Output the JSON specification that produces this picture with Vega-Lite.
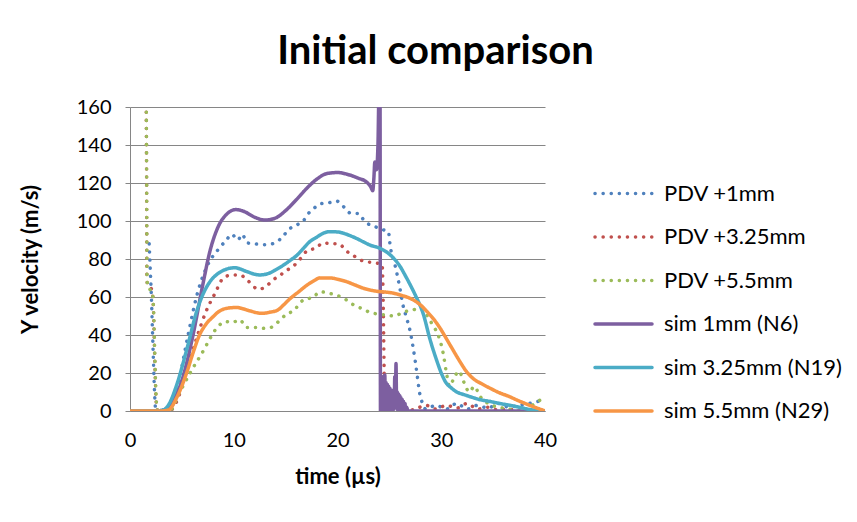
{
  "$schema": "https://vega.github.io/schema/vega-lite/v6.json",
  "width": 415,
  "height": 304,
  "autosize": "none",
  "padding": {"left": 130, "top": 107, "right": 312, "bottom": 111},
  "background": "white",
  "title": {
    "text": "Initial comparison",
    "font": "Lato",
    "fontSize": 40,
    "fontWeight": "bold",
    "color": "#000000",
    "anchor": "middle",
    "frame": "group",
    "dx": 98,
    "baseline": "alphabetic",
    "offset": -7
  },
  "config": {
    "view": {"stroke": null},
    "font": "Lato",
    "axis": {
      "labelFont": "Lato",
      "labelFontSize": 20,
      "labelColor": "#000000",
      "titleFont": "Lato",
      "titleFontSize": 22,
      "titleFontWeight": "bold",
      "titleColor": "#000000",
      "domainColor": "#868686",
      "tickColor": "#868686",
      "gridColor": "#868686",
      "gridWidth": 1,
      "domainWidth": 1
    },
    "legend": {"labelFont": "Lato"}
  },
  "data": {
    "values": [
      {"series": "PDV +1mm", "t": 1.85, "v": 88}, {"series": "PDV +1mm", "t": 1.95, "v": 75}, {"series": "PDV +1mm", "t": 2.05, "v": 62}, {"series": "PDV +1mm", "t": 2.15, "v": 45}, {"series": "PDV +1mm", "t": 2.25, "v": 28}, {"series": "PDV +1mm", "t": 2.35, "v": 12}, {"series": "PDV +1mm", "t": 2.45, "v": 2}, {"series": "PDV +1mm", "t": 2.6, "v": 0}, {"series": "PDV +1mm", "t": 3.4, "v": 0}, {"series": "PDV +1mm", "t": 4.2, "v": 4}, {"series": "PDV +1mm", "t": 4.8, "v": 18}, {"series": "PDV +1mm", "t": 5.6, "v": 40}, {"series": "PDV +1mm", "t": 6.5, "v": 62}, {"series": "PDV +1mm", "t": 7.5, "v": 77}, {"series": "PDV +1mm", "t": 8.5, "v": 85}, {"series": "PDV +1mm", "t": 9.3, "v": 90}, {"series": "PDV +1mm", "t": 9.8, "v": 93}, {"series": "PDV +1mm", "t": 10.4, "v": 90}, {"series": "PDV +1mm", "t": 10.8, "v": 93}, {"series": "PDV +1mm", "t": 11.3, "v": 88.5}, {"series": "PDV +1mm", "t": 12, "v": 88}, {"series": "PDV +1mm", "t": 12.9, "v": 87.5}, {"series": "PDV +1mm", "t": 13.7, "v": 88}, {"series": "PDV +1mm", "t": 14.5, "v": 90.5}, {"series": "PDV +1mm", "t": 15.4, "v": 96}, {"series": "PDV +1mm", "t": 16.1, "v": 98}, {"series": "PDV +1mm", "t": 16.7, "v": 100}, {"series": "PDV +1mm", "t": 17.2, "v": 104}, {"series": "PDV +1mm", "t": 17.7, "v": 106.5}, {"series": "PDV +1mm", "t": 18.3, "v": 109}, {"series": "PDV +1mm", "t": 19.1, "v": 109.5}, {"series": "PDV +1mm", "t": 19.9, "v": 110.5}, {"series": "PDV +1mm", "t": 20.6, "v": 107.5}, {"series": "PDV +1mm", "t": 21.3, "v": 104}, {"series": "PDV +1mm", "t": 22, "v": 104}, {"series": "PDV +1mm", "t": 22.6, "v": 100}, {"series": "PDV +1mm", "t": 23.1, "v": 98}, {"series": "PDV +1mm", "t": 23.6, "v": 97}, {"series": "PDV +1mm", "t": 24.1, "v": 96}, {"series": "PDV +1mm", "t": 24.6, "v": 95}, {"series": "PDV +1mm", "t": 24.9, "v": 94.5}, {"series": "PDV +1mm", "t": 25.1, "v": 86}, {"series": "PDV +1mm", "t": 25.4, "v": 80}, {"series": "PDV +1mm", "t": 25.7, "v": 73}, {"series": "PDV +1mm", "t": 26.0, "v": 65}, {"series": "PDV +1mm", "t": 26.3, "v": 56}, {"series": "PDV +1mm", "t": 26.6, "v": 50}, {"series": "PDV +1mm", "t": 27.0, "v": 42}, {"series": "PDV +1mm", "t": 27.3, "v": 33}, {"series": "PDV +1mm", "t": 27.5, "v": 26}, {"series": "PDV +1mm", "t": 27.7, "v": 18}, {"series": "PDV +1mm", "t": 27.9, "v": 10}, {"series": "PDV +1mm", "t": 28.2, "v": 4}, {"series": "PDV +1mm", "t": 28.5, "v": 1}, {"series": "PDV +1mm", "t": 29.5, "v": 3}, {"series": "PDV +1mm", "t": 30.5, "v": 1}, {"series": "PDV +1mm", "t": 31.5, "v": 4}, {"series": "PDV +1mm", "t": 32.5, "v": 1}, {"series": "PDV +1mm", "t": 33.5, "v": 3}, {"series": "PDV +1mm", "t": 34.5, "v": 1.5}, {"series": "PDV +1mm", "t": 35.5, "v": 4}, {"series": "PDV +1mm", "t": 36.5, "v": 2}, {"series": "PDV +1mm", "t": 37.5, "v": 3}, {"series": "PDV +1mm", "t": 38.5, "v": 4}, {"series": "PDV +1mm", "t": 39.3, "v": 5}, {"series": "PDV +1mm", "t": 40, "v": 6.5},

      {"series": "PDV +3.25mm", "t": 1.55, "v": 170}, {"series": "PDV +3.25mm", "t": 1.6, "v": 120}, {"series": "PDV +3.25mm", "t": 1.63, "v": 70}, {"series": "PDV +3.25mm", "t": 1.7, "v": 66}, {"series": "PDV +3.25mm", "t": 1.9, "v": 65}, {"series": "PDV +3.25mm", "t": 2.1, "v": 64}, {"series": "PDV +3.25mm", "t": 2.25, "v": 55}, {"series": "PDV +3.25mm", "t": 2.35, "v": 35}, {"series": "PDV +3.25mm", "t": 2.45, "v": 15}, {"series": "PDV +3.25mm", "t": 2.55, "v": 3}, {"series": "PDV +3.25mm", "t": 2.7, "v": 0}, {"series": "PDV +3.25mm", "t": 3.8, "v": 0}, {"series": "PDV +3.25mm", "t": 4.5, "v": 5}, {"series": "PDV +3.25mm", "t": 5.3, "v": 18}, {"series": "PDV +3.25mm", "t": 6.4, "v": 38}, {"series": "PDV +3.25mm", "t": 7.3, "v": 52}, {"series": "PDV +3.25mm", "t": 8.2, "v": 62}, {"series": "PDV +3.25mm", "t": 9.0, "v": 70}, {"series": "PDV +3.25mm", "t": 9.8, "v": 71.6}, {"series": "PDV +3.25mm", "t": 10.6, "v": 71.6}, {"series": "PDV +3.25mm", "t": 11.4, "v": 68.4}, {"series": "PDV +3.25mm", "t": 12.4, "v": 64}, {"series": "PDV +3.25mm", "t": 13.2, "v": 66}, {"series": "PDV +3.25mm", "t": 13.8, "v": 69}, {"series": "PDV +3.25mm", "t": 14.5, "v": 71.6}, {"series": "PDV +3.25mm", "t": 15.1, "v": 74}, {"series": "PDV +3.25mm", "t": 15.7, "v": 76}, {"series": "PDV +3.25mm", "t": 16.4, "v": 80}, {"series": "PDV +3.25mm", "t": 17, "v": 84}, {"series": "PDV +3.25mm", "t": 18, "v": 86}, {"series": "PDV +3.25mm", "t": 18.6, "v": 88.5}, {"series": "PDV +3.25mm", "t": 19.6, "v": 88}, {"series": "PDV +3.25mm", "t": 20.1, "v": 88}, {"series": "PDV +3.25mm", "t": 20.9, "v": 84}, {"series": "PDV +3.25mm", "t": 21.5, "v": 82}, {"series": "PDV +3.25mm", "t": 22, "v": 80}, {"series": "PDV +3.25mm", "t": 22.8, "v": 78.6}, {"series": "PDV +3.25mm", "t": 23.6, "v": 78}, {"series": "PDV +3.25mm", "t": 24.3, "v": 77}, {"series": "PDV +3.25mm", "t": 24.4, "v": 60}, {"series": "PDV +3.25mm", "t": 24.45, "v": 40}, {"series": "PDV +3.25mm", "t": 24.5, "v": 20}, {"series": "PDV +3.25mm", "t": 24.55, "v": 3}, {"series": "PDV +3.25mm", "t": 25.0, "v": 0}, {"series": "PDV +3.25mm", "t": 25.5, "v": 2}, {"series": "PDV +3.25mm", "t": 26.5, "v": 0}, {"series": "PDV +3.25mm", "t": 27.5, "v": 1}, {"series": "PDV +3.25mm", "t": 28.5, "v": 3}, {"series": "PDV +3.25mm", "t": 29.5, "v": 1}, {"series": "PDV +3.25mm", "t": 30.5, "v": 3}, {"series": "PDV +3.25mm", "t": 31.5, "v": 1.5}, {"series": "PDV +3.25mm", "t": 32.5, "v": 4}, {"series": "PDV +3.25mm", "t": 33.5, "v": 1}, {"series": "PDV +3.25mm", "t": 34.5, "v": 2}, {"series": "PDV +3.25mm", "t": 35.5, "v": 0.5}, {"series": "PDV +3.25mm", "t": 36.5, "v": 1}, {"series": "PDV +3.25mm", "t": 37.5, "v": 0}, {"series": "PDV +3.25mm", "t": 38.5, "v": 0.5}, {"series": "PDV +3.25mm", "t": 40, "v": 0},

      {"series": "PDV +5.5mm", "t": 1.56, "v": 170}, {"series": "PDV +5.5mm", "t": 1.61, "v": 120}, {"series": "PDV +5.5mm", "t": 1.64, "v": 70}, {"series": "PDV +5.5mm", "t": 1.72, "v": 65}, {"series": "PDV +5.5mm", "t": 1.92, "v": 64}, {"series": "PDV +5.5mm", "t": 2.12, "v": 63}, {"series": "PDV +5.5mm", "t": 2.27, "v": 54}, {"series": "PDV +5.5mm", "t": 2.37, "v": 34}, {"series": "PDV +5.5mm", "t": 2.47, "v": 14}, {"series": "PDV +5.5mm", "t": 2.57, "v": 3}, {"series": "PDV +5.5mm", "t": 2.7, "v": 0}, {"series": "PDV +5.5mm", "t": 3.8, "v": 0}, {"series": "PDV +5.5mm", "t": 4.8, "v": 10}, {"series": "PDV +5.5mm", "t": 6, "v": 22}, {"series": "PDV +5.5mm", "t": 7.1, "v": 32}, {"series": "PDV +5.5mm", "t": 7.8, "v": 39}, {"series": "PDV +5.5mm", "t": 8.4, "v": 44}, {"series": "PDV +5.5mm", "t": 9.3, "v": 47}, {"series": "PDV +5.5mm", "t": 9.8, "v": 46.5}, {"series": "PDV +5.5mm", "t": 10.6, "v": 48}, {"series": "PDV +5.5mm", "t": 11.2, "v": 44}, {"series": "PDV +5.5mm", "t": 12.2, "v": 44}, {"series": "PDV +5.5mm", "t": 13, "v": 43.5}, {"series": "PDV +5.5mm", "t": 13.6, "v": 44}, {"series": "PDV +5.5mm", "t": 14.3, "v": 47}, {"series": "PDV +5.5mm", "t": 15.1, "v": 51}, {"series": "PDV +5.5mm", "t": 15.7, "v": 52.5}, {"series": "PDV +5.5mm", "t": 16.7, "v": 58.4}, {"series": "PDV +5.5mm", "t": 17.7, "v": 60}, {"series": "PDV +5.5mm", "t": 18.3, "v": 62.8}, {"series": "PDV +5.5mm", "t": 19.1, "v": 62}, {"series": "PDV +5.5mm", "t": 19.9, "v": 61}, {"series": "PDV +5.5mm", "t": 20.7, "v": 59}, {"series": "PDV +5.5mm", "t": 21.5, "v": 56}, {"series": "PDV +5.5mm", "t": 22.3, "v": 54}, {"series": "PDV +5.5mm", "t": 23.1, "v": 52}, {"series": "PDV +5.5mm", "t": 23.9, "v": 51}, {"series": "PDV +5.5mm", "t": 24.7, "v": 50.5}, {"series": "PDV +5.5mm", "t": 25.5, "v": 50}, {"series": "PDV +5.5mm", "t": 26.3, "v": 52}, {"series": "PDV +5.5mm", "t": 27.2, "v": 53}, {"series": "PDV +5.5mm", "t": 27.8, "v": 54}, {"series": "PDV +5.5mm", "t": 28.3, "v": 53}, {"series": "PDV +5.5mm", "t": 28.6, "v": 50.5}, {"series": "PDV +5.5mm", "t": 29.2, "v": 45}, {"series": "PDV +5.5mm", "t": 29.7, "v": 40}, {"series": "PDV +5.5mm", "t": 30.2, "v": 30}, {"series": "PDV +5.5mm", "t": 30.5, "v": 20}, {"series": "PDV +5.5mm", "t": 30.8, "v": 13}, {"series": "PDV +5.5mm", "t": 31.2, "v": 17}, {"series": "PDV +5.5mm", "t": 31.7, "v": 21}, {"series": "PDV +5.5mm", "t": 32.2, "v": 15}, {"series": "PDV +5.5mm", "t": 32.7, "v": 10}, {"series": "PDV +5.5mm", "t": 33.2, "v": 13}, {"series": "PDV +5.5mm", "t": 33.7, "v": 8}, {"series": "PDV +5.5mm", "t": 34.5, "v": 4}, {"series": "PDV +5.5mm", "t": 35.5, "v": 2}, {"series": "PDV +5.5mm", "t": 36.5, "v": 1}, {"series": "PDV +5.5mm", "t": 37.5, "v": 0}, {"series": "PDV +5.5mm", "t": 38.5, "v": 2}, {"series": "PDV +5.5mm", "t": 39.3, "v": 5}, {"series": "PDV +5.5mm", "t": 40, "v": 7},

      {"series": "sim 1mm (N6)", "t": 0, "v": 0}, {"series": "sim 1mm (N6)", "t": 2.5, "v": 0}, {"series": "sim 1mm (N6)", "t": 3.2, "v": 0.5}, {"series": "sim 1mm (N6)", "t": 4, "v": 4}, {"series": "sim 1mm (N6)", "t": 5, "v": 16}, {"series": "sim 1mm (N6)", "t": 6, "v": 38}, {"series": "sim 1mm (N6)", "t": 7, "v": 66}, {"series": "sim 1mm (N6)", "t": 7.7, "v": 84}, {"series": "sim 1mm (N6)", "t": 8.5, "v": 97}, {"series": "sim 1mm (N6)", "t": 9.3, "v": 103.5}, {"series": "sim 1mm (N6)", "t": 10.2, "v": 106}, {"series": "sim 1mm (N6)", "t": 11, "v": 105}, {"series": "sim 1mm (N6)", "t": 12, "v": 102}, {"series": "sim 1mm (N6)", "t": 13, "v": 100.5}, {"series": "sim 1mm (N6)", "t": 14, "v": 101.5}, {"series": "sim 1mm (N6)", "t": 15, "v": 105.5}, {"series": "sim 1mm (N6)", "t": 16, "v": 111}, {"series": "sim 1mm (N6)", "t": 17, "v": 117}, {"series": "sim 1mm (N6)", "t": 18, "v": 122}, {"series": "sim 1mm (N6)", "t": 19, "v": 125}, {"series": "sim 1mm (N6)", "t": 20, "v": 125.5}, {"series": "sim 1mm (N6)", "t": 21, "v": 124.5}, {"series": "sim 1mm (N6)", "t": 22, "v": 122.5}, {"series": "sim 1mm (N6)", "t": 22.8, "v": 120.5}, {"series": "sim 1mm (N6)", "t": 23.2, "v": 118}, {"series": "sim 1mm (N6)", "t": 23.4, "v": 116}, {"series": "sim 1mm (N6)", "t": 23.5, "v": 122}, {"series": "sim 1mm (N6)", "t": 23.6, "v": 131}, {"series": "sim 1mm (N6)", "t": 23.75, "v": 127}, {"series": "sim 1mm (N6)", "t": 23.9, "v": 140}, {"series": "sim 1mm (N6)", "t": 24.0, "v": 168}, {"series": "sim 1mm (N6)", "t": 24.1, "v": 168}, {"series": "sim 1mm (N6)", "t": 24.14, "v": 0},
      {"series": "sim 1mm (N6)", "t": 24.2, "v": 16}, {"series": "sim 1mm (N6)", "t": 24.26, "v": 1}, {"series": "sim 1mm (N6)", "t": 24.32, "v": 18}, {"series": "sim 1mm (N6)", "t": 24.38, "v": 0}, {"series": "sim 1mm (N6)", "t": 24.44, "v": 17}, {"series": "sim 1mm (N6)", "t": 24.5, "v": 1}, {"series": "sim 1mm (N6)", "t": 24.56, "v": 19}, {"series": "sim 1mm (N6)", "t": 24.62, "v": 0}, {"series": "sim 1mm (N6)", "t": 24.68, "v": 15}, {"series": "sim 1mm (N6)", "t": 24.74, "v": 1}, {"series": "sim 1mm (N6)", "t": 24.8, "v": 14}, {"series": "sim 1mm (N6)", "t": 24.86, "v": 0}, {"series": "sim 1mm (N6)", "t": 24.92, "v": 13}, {"series": "sim 1mm (N6)", "t": 24.98, "v": 1}, {"series": "sim 1mm (N6)", "t": 25.04, "v": 12}, {"series": "sim 1mm (N6)", "t": 25.1, "v": 0}, {"series": "sim 1mm (N6)", "t": 25.16, "v": 11}, {"series": "sim 1mm (N6)", "t": 25.22, "v": 1}, {"series": "sim 1mm (N6)", "t": 25.28, "v": 10}, {"series": "sim 1mm (N6)", "t": 25.34, "v": 0}, {"series": "sim 1mm (N6)", "t": 25.4, "v": 11}, {"series": "sim 1mm (N6)", "t": 25.46, "v": 1}, {"series": "sim 1mm (N6)", "t": 25.52, "v": 18}, {"series": "sim 1mm (N6)", "t": 25.58, "v": 3}, {"series": "sim 1mm (N6)", "t": 25.64, "v": 25}, {"series": "sim 1mm (N6)", "t": 25.7, "v": 2}, {"series": "sim 1mm (N6)", "t": 25.76, "v": 10}, {"series": "sim 1mm (N6)", "t": 25.82, "v": 0}, {"series": "sim 1mm (N6)", "t": 25.88, "v": 9}, {"series": "sim 1mm (N6)", "t": 25.94, "v": 1}, {"series": "sim 1mm (N6)", "t": 26.0, "v": 8}, {"series": "sim 1mm (N6)", "t": 26.06, "v": 0}, {"series": "sim 1mm (N6)", "t": 26.12, "v": 7}, {"series": "sim 1mm (N6)", "t": 26.18, "v": 1}, {"series": "sim 1mm (N6)", "t": 26.24, "v": 6}, {"series": "sim 1mm (N6)", "t": 26.3, "v": 0}, {"series": "sim 1mm (N6)", "t": 26.36, "v": 5}, {"series": "sim 1mm (N6)", "t": 26.42, "v": 0}, {"series": "sim 1mm (N6)", "t": 26.5, "v": 4}, {"series": "sim 1mm (N6)", "t": 26.58, "v": 0}, {"series": "sim 1mm (N6)", "t": 26.66, "v": 2}, {"series": "sim 1mm (N6)", "t": 26.8, "v": 0}, {"series": "sim 1mm (N6)", "t": 40, "v": 0},

      {"series": "sim 3.25mm (N19)", "t": 0, "v": 0}, {"series": "sim 3.25mm (N19)", "t": 2.5, "v": 0}, {"series": "sim 3.25mm (N19)", "t": 3.2, "v": 0.5}, {"series": "sim 3.25mm (N19)", "t": 3.8, "v": 4}, {"series": "sim 3.25mm (N19)", "t": 4.5, "v": 13.7}, {"series": "sim 3.25mm (N19)", "t": 5.5, "v": 33}, {"series": "sim 3.25mm (N19)", "t": 6.4, "v": 52}, {"series": "sim 3.25mm (N19)", "t": 7.0, "v": 61}, {"series": "sim 3.25mm (N19)", "t": 7.7, "v": 68}, {"series": "sim 3.25mm (N19)", "t": 8.4, "v": 72}, {"series": "sim 3.25mm (N19)", "t": 9.0, "v": 74}, {"series": "sim 3.25mm (N19)", "t": 10.1, "v": 75.4}, {"series": "sim 3.25mm (N19)", "t": 11.2, "v": 73.5}, {"series": "sim 3.25mm (N19)", "t": 12.0, "v": 72}, {"series": "sim 3.25mm (N19)", "t": 12.5, "v": 71.6}, {"series": "sim 3.25mm (N19)", "t": 13.4, "v": 72.5}, {"series": "sim 3.25mm (N19)", "t": 14.1, "v": 74.5}, {"series": "sim 3.25mm (N19)", "t": 14.8, "v": 76.8}, {"series": "sim 3.25mm (N19)", "t": 15.5, "v": 79.5}, {"series": "sim 3.25mm (N19)", "t": 16.1, "v": 82}, {"series": "sim 3.25mm (N19)", "t": 16.7, "v": 85.5}, {"series": "sim 3.25mm (N19)", "t": 17.3, "v": 89}, {"series": "sim 3.25mm (N19)", "t": 18, "v": 91.5}, {"series": "sim 3.25mm (N19)", "t": 18.6, "v": 93.5}, {"series": "sim 3.25mm (N19)", "t": 19.3, "v": 94.4}, {"series": "sim 3.25mm (N19)", "t": 20.1, "v": 94.2}, {"series": "sim 3.25mm (N19)", "t": 20.6, "v": 93.5}, {"series": "sim 3.25mm (N19)", "t": 21.2, "v": 92.3}, {"series": "sim 3.25mm (N19)", "t": 21.8, "v": 90.9}, {"series": "sim 3.25mm (N19)", "t": 22.5, "v": 89}, {"series": "sim 3.25mm (N19)", "t": 23.1, "v": 87.4}, {"series": "sim 3.25mm (N19)", "t": 24.1, "v": 85.6}, {"series": "sim 3.25mm (N19)", "t": 24.9, "v": 83}, {"series": "sim 3.25mm (N19)", "t": 25.3, "v": 81}, {"series": "sim 3.25mm (N19)", "t": 25.7, "v": 78.6}, {"series": "sim 3.25mm (N19)", "t": 26.1, "v": 75.5}, {"series": "sim 3.25mm (N19)", "t": 26.5, "v": 71.6}, {"series": "sim 3.25mm (N19)", "t": 27, "v": 66.5}, {"series": "sim 3.25mm (N19)", "t": 27.5, "v": 61}, {"series": "sim 3.25mm (N19)", "t": 28.3, "v": 50.5}, {"series": "sim 3.25mm (N19)", "t": 28.9, "v": 38}, {"series": "sim 3.25mm (N19)", "t": 29.6, "v": 26}, {"series": "sim 3.25mm (N19)", "t": 30, "v": 20}, {"series": "sim 3.25mm (N19)", "t": 30.4, "v": 15.4}, {"series": "sim 3.25mm (N19)", "t": 31, "v": 12}, {"series": "sim 3.25mm (N19)", "t": 31.5, "v": 10}, {"series": "sim 3.25mm (N19)", "t": 32.2, "v": 8.6}, {"series": "sim 3.25mm (N19)", "t": 32.8, "v": 7.5}, {"series": "sim 3.25mm (N19)", "t": 33.7, "v": 6}, {"series": "sim 3.25mm (N19)", "t": 34.7, "v": 5}, {"series": "sim 3.25mm (N19)", "t": 35.6, "v": 4}, {"series": "sim 3.25mm (N19)", "t": 36.6, "v": 3}, {"series": "sim 3.25mm (N19)", "t": 37.5, "v": 2}, {"series": "sim 3.25mm (N19)", "t": 38.5, "v": 0.8}, {"series": "sim 3.25mm (N19)", "t": 39.5, "v": 0.2}, {"series": "sim 3.25mm (N19)", "t": 40, "v": 0},

      {"series": "sim 5.5mm (N29)", "t": 0, "v": 0}, {"series": "sim 5.5mm (N29)", "t": 3, "v": 0}, {"series": "sim 5.5mm (N29)", "t": 3.7, "v": 0.5}, {"series": "sim 5.5mm (N29)", "t": 4.5, "v": 7}, {"series": "sim 5.5mm (N29)", "t": 5.5, "v": 20.7}, {"series": "sim 5.5mm (N29)", "t": 6.1, "v": 31}, {"series": "sim 5.5mm (N29)", "t": 6.7, "v": 40}, {"series": "sim 5.5mm (N29)", "t": 7.3, "v": 45.5}, {"series": "sim 5.5mm (N29)", "t": 8.0, "v": 49.6}, {"series": "sim 5.5mm (N29)", "t": 8.6, "v": 52.5}, {"series": "sim 5.5mm (N29)", "t": 9.3, "v": 54}, {"series": "sim 5.5mm (N29)", "t": 10.3, "v": 54.5}, {"series": "sim 5.5mm (N29)", "t": 11, "v": 53.6}, {"series": "sim 5.5mm (N29)", "t": 11.6, "v": 52.6}, {"series": "sim 5.5mm (N29)", "t": 12.7, "v": 51.4}, {"series": "sim 5.5mm (N29)", "t": 13.5, "v": 52}, {"series": "sim 5.5mm (N29)", "t": 14.2, "v": 53}, {"series": "sim 5.5mm (N29)", "t": 14.8, "v": 55.8}, {"series": "sim 5.5mm (N29)", "t": 15.4, "v": 59}, {"series": "sim 5.5mm (N29)", "t": 16.2, "v": 62.5}, {"series": "sim 5.5mm (N29)", "t": 17, "v": 66}, {"series": "sim 5.5mm (N29)", "t": 17.7, "v": 68.5}, {"series": "sim 5.5mm (N29)", "t": 18.3, "v": 70}, {"series": "sim 5.5mm (N29)", "t": 19.3, "v": 70}, {"series": "sim 5.5mm (N29)", "t": 20.1, "v": 69.2}, {"series": "sim 5.5mm (N29)", "t": 20.9, "v": 68}, {"series": "sim 5.5mm (N29)", "t": 21.7, "v": 66.3}, {"series": "sim 5.5mm (N29)", "t": 22.5, "v": 64.6}, {"series": "sim 5.5mm (N29)", "t": 23.2, "v": 63.6}, {"series": "sim 5.5mm (N29)", "t": 23.8, "v": 63}, {"series": "sim 5.5mm (N29)", "t": 24.6, "v": 62.6}, {"series": "sim 5.5mm (N29)", "t": 25.4, "v": 62}, {"series": "sim 5.5mm (N29)", "t": 26.2, "v": 60.8}, {"series": "sim 5.5mm (N29)", "t": 27, "v": 59.3}, {"series": "sim 5.5mm (N29)", "t": 27.5, "v": 57.8}, {"series": "sim 5.5mm (N29)", "t": 28, "v": 55.8}, {"series": "sim 5.5mm (N29)", "t": 28.6, "v": 52.5}, {"series": "sim 5.5mm (N29)", "t": 29.2, "v": 48.8}, {"series": "sim 5.5mm (N29)", "t": 29.9, "v": 43.5}, {"series": "sim 5.5mm (N29)", "t": 30.5, "v": 38}, {"series": "sim 5.5mm (N29)", "t": 31.2, "v": 31.5}, {"series": "sim 5.5mm (N29)", "t": 31.8, "v": 26}, {"series": "sim 5.5mm (N29)", "t": 32.4, "v": 21}, {"series": "sim 5.5mm (N29)", "t": 33.1, "v": 17}, {"series": "sim 5.5mm (N29)", "t": 33.9, "v": 14.3}, {"series": "sim 5.5mm (N29)", "t": 34.7, "v": 12}, {"series": "sim 5.5mm (N29)", "t": 35.6, "v": 9.6}, {"series": "sim 5.5mm (N29)", "t": 36.6, "v": 7.5}, {"series": "sim 5.5mm (N29)", "t": 37.4, "v": 5.5}, {"series": "sim 5.5mm (N29)", "t": 38.2, "v": 3.7}, {"series": "sim 5.5mm (N29)", "t": 39, "v": 2}, {"series": "sim 5.5mm (N29)", "t": 39.9, "v": 0.2}, {"series": "sim 5.5mm (N29)", "t": 40, "v": 0}
    ]
  },
  "mark": {"type": "line", "clip": true, "strokeCap": "round", "strokeJoin": "round", "interpolate": "monotone"},
  "encoding": {
    "x": {
      "field": "t",
      "type": "quantitative",
      "scale": {"domain": [0, 40], "nice": false, "zero": false},
      "axis": {"values": [0, 10, 20, 30, 40], "grid": false, "ticks": false, "labelFlush": false, "labelPadding": 19, "title": "time (µs)", "titlePadding": 16}
    },
    "y": {
      "field": "v",
      "type": "quantitative",
      "scale": {"domain": [0, 160], "nice": false},
      "axis": {"values": [0, 20, 40, 60, 80, 100, 120, 140, 160], "grid": true, "ticks": true, "tickSize": 5, "labelFlush": false, "labelPadding": 14, "title": "Y velocity (m/s)", "titleX": -100, "titleY": 152, "titleAngle": -90, "titleAlign": "center", "titleBaseline": "middle"}
    },
    "color": {
      "field": "series",
      "type": "nominal",
      "scale": {
        "domain": ["PDV +1mm", "PDV +3.25mm", "PDV +5.5mm", "sim 1mm (N6)", "sim 3.25mm (N19)", "sim 5.5mm (N29)"],
        "range": ["#4F81BD", "#C0504D", "#9BBB59", "#7D5FA0", "#4BACC6", "#F79646"]
      },
      "legend": {
        "title": null,
        "orient": "none",
        "legendX": 463,
        "legendY": 56,
        "symbolType": "stroke",
        "symbolSize": 3249,
        "labelFontSize": 22,
        "labelLimit": 300,
        "labelColor": "#000000",
        "labelOffset": 10,
        "rowPadding": 1.5,
        "encode": {"symbols": {"update": {"strokeCap": {"value": "round"}}}}
      }
    },
    "strokeDash": {
      "field": "series",
      "type": "nominal",
      "scale": {
        "domain": ["PDV +1mm", "PDV +3.25mm", "PDV +5.5mm", "sim 1mm (N6)", "sim 3.25mm (N19)", "sim 5.5mm (N29)"],
        "range": [[0.1, 8], [0.1, 8], [0.1, 8], [1, 0], [1, 0], [1, 0]]
      }
    },
    "strokeWidth": {
      "field": "series",
      "type": "nominal",
      "scale": {
        "domain": ["PDV +1mm", "PDV +3.25mm", "PDV +5.5mm", "sim 1mm (N6)", "sim 3.25mm (N19)", "sim 5.5mm (N29)"],
        "range": [3.5, 3.5, 3.5, 4.5, 4.5, 4.5]
      }
    },
    "order": {"field": "series"}
  }
}
